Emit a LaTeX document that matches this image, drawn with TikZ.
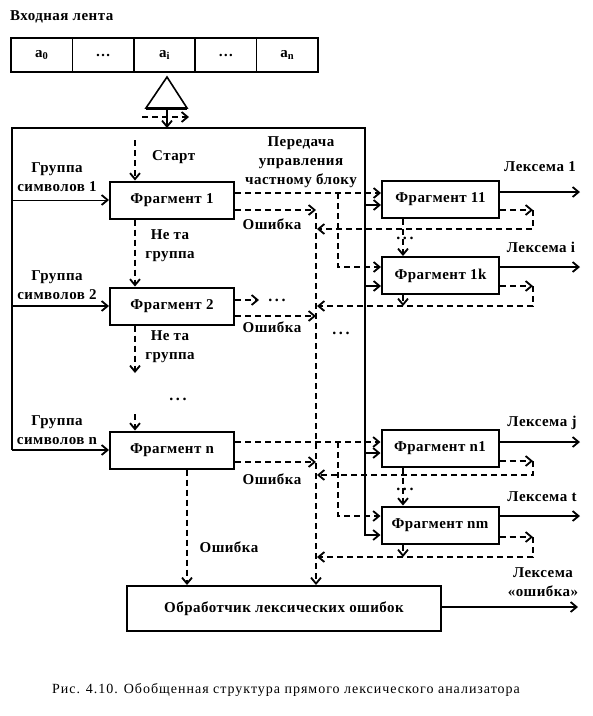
\documentclass[tikz,border=0pt]{standalone}
\usepackage{fontspec}
\setmainfont{Liberation Serif}
\newfontfamily\lblfont{Liberation Serif}[LetterSpace=3]
\newfontfamily\capfont{Liberation Serif}[LetterSpace=7]
\newfontfamily\dotfont{Liberation Serif}[LetterSpace=16]
\usetikzlibrary{arrows.meta}
\tikzset{
  lbl/.style={font=\lblfont\bfseries\fontsize{15}{19}\selectfont, inner sep=0pt, align=center},
  box/.style={draw, line width=2pt, minimum width=117pt, minimum height=37pt, inner sep=0pt,
              font=\lblfont\bfseries\fontsize{15}{19}\selectfont},
  tip/.style={-{Straight Barb[length=6pt,width=10pt,line width=1.8pt]}},
  sol/.style={line width=1.6pt, tip},
  das/.style={line width=1.6pt, dash pattern=on 6pt off 4pt, tip},
  dots/.style={font=\dotfont\bfseries\fontsize{16}{16}\selectfont, inner sep=0pt},
  cell/.style={draw, line width=1.6pt, minimum width=61.4pt, minimum height=34pt, inner sep=0pt,
               font=\lblfont\bfseries\fontsize{15}{19}\selectfont}
}
\begin{document}
\begin{tikzpicture}[x=1pt,y=-1pt]
\useasboundingbox (0,0) rectangle (593,716);
% tape
\node[lbl, anchor=west] (tapelbl) at (10,17) {Входная лента};
\node[cell] (c0) at (41.7,55) {a\textsubscript{0}};
\node[cell] (c1) at (103.1,55) {…};
\node[cell] (c2) at (164.5,55) {a\textsubscript{i}};
\node[cell] (c3) at (225.9,55) {…};
\node[cell] (c4) at (287.3,55) {a\textsubscript{n}};
% head
\coordinate (apex) at (167,77);
\coordinate (hb) at (167,108);
\draw[line width=1.6pt, line join=miter] (apex) -- (146,108) -- (187,108) -- cycle;
\draw[line width=3pt] (146,108) -- (187,108);
\coordinate (ftop) at (167,128);
\draw[sol] (hb) -- (ftop);
\coordinate (hd1) at (142,117);
\coordinate (hd2) at (189,117);
\draw[das] (hd1) -- (hd2);
% boxes
\node[box, minimum width=124pt] (f1) at (172,200) {Фрагмент 1};
\node[box, minimum width=124pt] (f2) at (172,306) {Фрагмент 2};
\node[box, minimum width=124pt] (fn) at (172,450) {Фрагмент n};
\node[box] (f11) at (440.5,199.5) {Фрагмент 11};
\node[box] (f1k) at (440.5,275.5) {Фрагмент 1k};
\node[box] (fn1) at (440,448) {Фрагмент n1};
\node[box] (fnm) at (440,525) {Фрагмент nm};
\node[box, minimum width=314pt, minimum height=45pt] (proc) at (284,608.5) {Обработчик лексических ошибок};
% frame
\coordinate (fl) at (12,450);
\draw[sol] (fl) -- (12,128) -- (365,128) -- (365,535) -- (fnm.west |- 0,535);
\draw[sol] (fl) -- (fn.west);
\draw[sol, line width=1pt] (12,200) -- (f1.west);
\draw[sol] (12,306) -- (f2.west);
% left column flow
\coordinate (st) at (135,140);
\draw[das] (st) -- (st |- f1.north);
\draw[das] (f1.south -| st) -- (f2.north -| st);
\coordinate (c2e) at (135,373);
\draw[das] (f2.south -| st) -- (c2e);
\coordinate (cns) at (135,414);
\draw[das] (cns) -- (fn.north -| st);
% f1 right side
\draw[das] (f1.east |- 0,193) -- (f11.west |- 0,193);
\draw[das] (338,193) -- (338,267) -- (f1k.west |- 0,267);
\draw[das] (f1.east |- 0,210) -- (316,210);
\coordinate (errtop) at (316,213);
\draw[das] (errtop) -- (proc.north -| errtop);
\draw[sol] (365,205) -- (f11.west |- 0,205);
\draw[sol] (365,286) -- (f1k.west |- 0,286);
\draw[sol] (f11.east |- 0,192) -- (580,192);
\draw[sol] (f1k.east |- 0,267) -- (580,267);
\draw[das] (f11.east |- 0,210) -- (533,210);
\draw[das] (533,210) -- (533,229) -- (317,229);
\draw[das] (f11.south -| 403,0) -- (f1k.north -| 403,0);
\draw[das] (f1k.east |- 0,286) -- (533,286);
\draw[das] (533,286) -- (533,306) -- (317,306);
\draw[das] (f1k.south -| 403,0) -- (403,306);
% f2 right side
\draw[das] (f2.east |- 0,300) -- (259,300);
\draw[das] (f2.east |- 0,316) -- (316,316);
% fn right side
\draw[das] (fn.east |- 0,442) -- (fn1.west |- 0,442);
\draw[das] (338,442) -- (338,516) -- (fnm.west |- 0,516);
\draw[das] (fn.east |- 0,462) -- (316,462);
\draw[das] (fn.south -| 187,0) -- (proc.north -| 187,0);
\draw[sol] (365,453) -- (fn1.west |- 0,453);
\draw[sol] (fn1.east |- 0,442) -- (580,442);
\draw[das] (fn1.east |- 0,461) -- (533,461);
\draw[das] (533,461) -- (533,475) -- (317,475);
\draw[das] (fn1.south -| 403,0) -- (fnm.north -| 403,0);
\draw[sol] (fnm.east |- 0,516) -- (580,516);
\draw[das] (fnm.east |- 0,537) -- (533,537);
\draw[das] (533,537) -- (533,557) -- (317,557);
\draw[das] (fnm.south -| 403,0) -- (403,557);
\draw[sol] (proc.east |- 0,607) -- (578,607);
% labels
\node[lbl, anchor=west] (lstart) at (152,157) {Старт};
\node[lbl] (lper) at (301,162) {Передача\\управления\\частному блоку};
\node[lbl] (lg1) at (57,177.5) {Группа\\символов 1};
\node[lbl] (lg2) at (57,285) {Группа\\символов 2};
\node[lbl] (lgn) at (57,430.5) {Группа\\символов n};
\node[lbl] (le1) at (272,224) {Ошибка};
\node[lbl] (le2) at (272,327) {Ошибка};
\node[lbl] (le3) at (272,479) {Ошибка};
\node[lbl] (le4) at (229,547) {Ошибка};
\node[lbl] (ln1) at (170,245.5) {Не та\\группа};
\node[lbl] (ln2) at (170,347) {Не та\\группа};
\node[dots] (d1) at (178,399) {...};
\node[dots] (d2) at (277,300) {...};
\node[dots] (d3) at (341,333) {...};
\node[dots] (d4) at (405,238) {...};
\node[dots] (d5) at (405,489) {...};
\node[lbl] (lx1) at (540,167) {Лексема 1};
\node[lbl] (lx2) at (541,247) {Лексема i};
\node[lbl] (lx3) at (542,423) {Лексема j};
\node[lbl] (lx4) at (542,497) {Лексема t};
\node[lbl] (lx5) at (543,582.5) {Лексема\\«ошибка»};
\node[font=\capfont\fontsize{14}{16}\selectfont, inner sep=0pt] (cap) at (286,690) {Рис. 4.10. Обобщенная структура прямого лексического анализатора};
\end{tikzpicture}
\end{document}
